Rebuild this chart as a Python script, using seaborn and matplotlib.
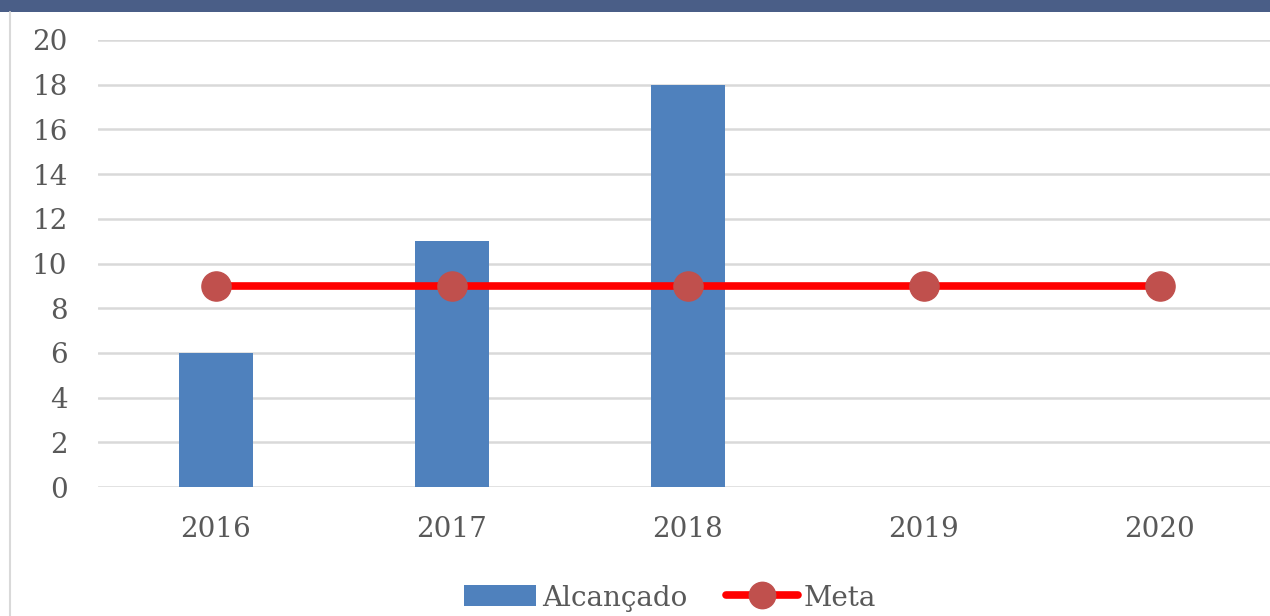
import pandas as pd
import seaborn as sb
import matplotlib.pyplot as plt
from matplotlib.patches import Patch, Rectangle
from matplotlib.lines import Line2D

years = ['2016', '2017', '2018', '2019', '2020']
alcancado_years = ['2016', '2017', '2018']
alcancado = [6, 11, 18]
meta = [9, 9, 9, 9, 9]

sb.set_theme(style='white')
plt.rcParams['font.family'] = ['DejaVu Serif']
GREY = '#595959'

fig = plt.figure(figsize=[12.7, 6.16], dpi=100)
ax = fig.add_axes([98/1270, 1 - 487/616, 1180/1270, 447/616])  # [left, bottom, width, height]

df_bar = pd.DataFrame({'ano': alcancado_years, 'valor': alcancado})
sb.barplot(data=df_bar, x='ano', y='valor', order=years, color='#4F81BD',
           saturation=1, width=0.31, ax=ax, zorder=2)
for p in ax.patches:
    p.set_edgecolor('none')

df_meta = pd.DataFrame({'ano': years, 'valor': meta})
sb.pointplot(data=df_meta, x='ano', y='valor', order=years, color='#FF0000',
             linewidth=5.5, markersize=0, ax=ax, zorder=3)
ax.plot(range(len(years)), meta, linestyle='none', marker='o', markersize=21,
        markerfacecolor='#C0504D', markeredgecolor='#C0504D', zorder=4)

ax.set_xlim(-0.5, 4.5)
ax.set_ylim(0, 20)
ax.set_yticks(range(0, 21, 2))
ax.grid(True, axis='y', color='#D9D9D9', linewidth=1.8)
ax.set_axisbelow(True)
for b in ['top', 'right', 'bottom', 'left']:
    ax.spines[b].set_visible(False)
ax.set_xlabel('')
ax.set_ylabel('')
ax.tick_params(axis='y', length=0, pad=22, labelsize=20, labelcolor=GREY)
ax.tick_params(axis='x', length=0, pad=21, labelsize=20, labelcolor=GREY)

# header band and chart frame
fig.patches.append(Rectangle((0, 1 - 12/616), 1, 12/616, transform=fig.transFigure,
                             facecolor='#4A5E87', edgecolor='none', zorder=0))
fig.lines.append(Line2D([10/1270, 10/1270], [0, 1 - 12/616], transform=fig.transFigure,
                        color='#D9D9D9', linewidth=1.5))

handles = [Patch(facecolor='#4F81BD', edgecolor='none'),
           Line2D([0], [0], color='#FF0000', linewidth=5.5, marker='o', markersize=19,
                  markerfacecolor='#C0504D', markeredgecolor='#C0504D')]
fig.legend(handles, ['Alcançado', 'Meta'], loc='center', bbox_to_anchor=(670/1270, 1 - 598/616),
           ncol=2, frameon=False, fontsize=20, labelcolor=GREY, handlelength=2.6,
           handleheight=0.8, handletextpad=0.2, columnspacing=1.4)

plt.savefig('out.png', dpi=100)
plt.close()
